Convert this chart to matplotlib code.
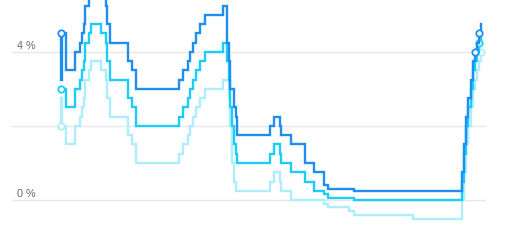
import matplotlib
matplotlib.use("Agg")
import matplotlib.pyplot as plt
import numpy as np
import pandas as pd

# ECB key interest rates (%), change dates
dates = [
    "1999-01-01", "1999-01-04", "1999-01-22", "1999-04-09", "1999-11-05",
    "2000-02-04", "2000-03-17", "2000-04-28", "2000-06-09", "2000-09-01",
    "2000-10-06", "2001-05-11", "2001-08-31", "2001-09-18", "2001-11-09",
    "2002-12-06", "2003-03-07", "2003-06-06", "2005-12-06", "2006-03-08",
    "2006-06-15", "2006-08-09", "2006-10-11", "2006-12-13", "2007-03-14",
    "2007-06-13", "2008-07-09", "2008-10-08", "2008-10-15", "2008-11-12",
    "2008-12-10", "2009-01-21", "2009-03-11", "2009-04-08", "2009-05-13",
    "2011-04-13", "2011-07-13", "2011-11-09", "2011-12-14", "2012-07-11",
    "2013-05-08", "2013-11-13", "2014-06-11", "2014-09-10", "2015-12-09",
    "2016-03-16", "2019-09-18", "2022-07-27", "2022-09-14", "2022-11-02",
    "2022-12-21", "2023-02-08", "2023-03-22", "2023-05-10", "2023-06-21",
    "2023-08-02", "2023-09-20",
]
marginal_lending = [
    4.50, 3.25, 4.50, 3.50, 4.00, 4.25, 4.50, 4.75, 5.25, 5.50,
    5.75, 5.50, 5.25, 4.75, 4.25, 3.75, 3.50, 3.00, 3.25, 3.50,
    3.75, 4.00, 4.25, 4.50, 4.75, 5.00, 5.25, 4.25, 4.25, 3.75,
    3.00, 3.00, 2.50, 2.25, 1.75, 2.00, 2.25, 2.00, 1.75, 1.50,
    1.00, 0.75, 0.40, 0.30, 0.30, 0.25, 0.25, 0.75, 1.50, 2.25,
    2.75, 3.25, 3.75, 4.00, 4.25, 4.50, 4.75,
]
main_refi = [
    3.00, 3.00, 3.00, 2.50, 3.00, 3.25, 3.50, 3.75, 4.25, 4.50,
    4.75, 4.50, 4.25, 3.75, 3.25, 2.75, 2.50, 2.00, 2.25, 2.50,
    2.75, 3.00, 3.25, 3.50, 3.75, 4.00, 4.25, 4.25, 3.75, 3.25,
    2.50, 2.00, 1.50, 1.25, 1.00, 1.25, 1.50, 1.25, 1.00, 0.75,
    0.50, 0.25, 0.15, 0.05, 0.05, 0.00, 0.00, 0.50, 1.25, 2.00,
    2.50, 3.00, 3.50, 3.75, 4.00, 4.25, 4.50,
]
deposit = [
    2.00, 2.75, 2.00, 1.50, 2.00, 2.25, 2.50, 2.75, 3.25, 3.50,
    3.75, 3.50, 3.25, 2.75, 2.25, 1.75, 1.50, 1.00, 1.25, 1.50,
    1.75, 2.00, 2.25, 2.50, 2.75, 3.00, 3.25, 3.25, 3.25, 2.75,
    2.00, 1.00, 0.50, 0.25, 0.25, 0.50, 0.75, 0.50, 0.25, 0.00,
    0.00, 0.00, -0.10, -0.20, -0.30, -0.40, -0.50, 0.00, 0.75, 1.50,
    2.00, 2.50, 3.00, 3.25, 3.50, 3.75, 4.00,
]
y_ticks = [0, 2, 4]
y_labels = {0: "0 %", 4: "4 %"}

t = pd.to_datetime(dates)
years = t.year + (t.dayofyear - 1) / 365.25

fig = plt.figure(figsize=(5.2, 2.45), dpi=100)
ax = fig.add_axes([0, 0, 1, 1])
ax.set_xlim(1995.41, 2026.0)
ax.set_ylim(-1.216, 5.405)
ax.axis("off")

for v in y_ticks:
    ax.axhline(v, xmin=0.023, xmax=0.933, color="#e8e8e8", lw=1.0, zorder=0)
    if v in y_labels:
        ax.text(1996.4, v + 0.04, y_labels[v], fontsize=7.8, color="#666666",
                family=["Liberation Sans", "DejaVu Sans"], va="bottom", ha="left")

series = [
    (deposit, "#aeeefc", [0, -1]),
    (main_refi, "#1ccdf7", [0, -2]),
    (marginal_lending, "#1f8ef1", [0, -4, -2]),
]
for vals, col, marks in series:
    n = len(vals)
    ax.plot(years, vals, drawstyle="steps-post", color=col, lw=1.7,
            solid_joinstyle="miter")
    idx = [m % n for m in marks]
    ax.plot(years[idx], np.array(vals)[idx], ls="none", marker="o", ms=4.6,
            mfc="white", mec=col, mew=1.3)

fig.savefig("out.png", dpi=100)
